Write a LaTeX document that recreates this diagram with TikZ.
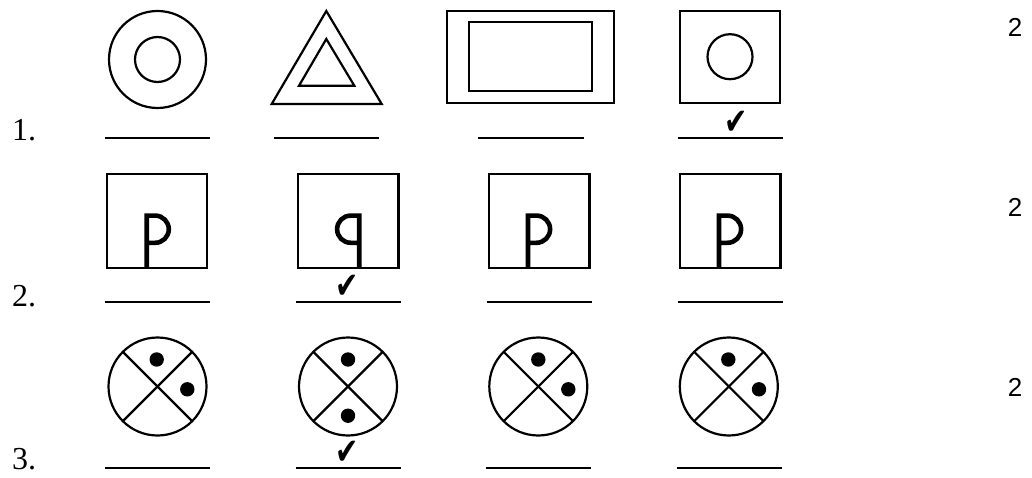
\documentclass[tikz,border=0pt]{standalone}
\usepackage{fontspec}
\setmainfont{Liberation Serif}
\newfontfamily\numfont{Liberation Sans}
\newfontfamily\symfont{DejaVu Sans}
\usepackage{tikz}
\tikzset{
    shapeline/.style={line width=2.2pt, black},
    blank/.style={line width=2pt, black},
    pstroke/.style={line width=4.6pt, black},
    numlabel/.style={anchor=base west, inner sep=0pt, font=\fontsize{32}{32}\selectfont},
    marklabel/.style={inner sep=0pt, font=\numfont\fontsize{26}{26}\selectfont},
    tick/.style={inner sep=0pt, xscale=0.75, font=\symfont\fontsize{37}{37}\selectfont}
}

\begin{document}
\begin{tikzpicture}[x=1pt,y=-1pt]
    \useasboundingbox (0,0) rectangle (1032,478);

    % row 1
    \draw[shapeline] (157.5,59.5) circle (48.5) (157.5,59.5) circle (22.5);
    \draw[shapeline] (271.7,104) -- (381.7,104) -- (326.3,11) -- cycle;
    \draw[shapeline] (299,85.7) -- (354.3,85.7) -- (326.3,39) -- cycle;
    \draw[shapeline] (446.7,10.7) rectangle (614.3,103.3);
    \draw[shapeline] (469.3,22.3) rectangle (592,90.7);
    \draw[shapeline] (680,10.7) rectangle (780,103.3);
    \draw[shapeline] (730,56.7) circle (22.5);

    % row 2
    \foreach \sx in {106.7,298,489,680}
        \draw[shapeline] (\sx,174) rectangle ++(100.5,94.3);
    \foreach \px/\sg in {146.7/1,359.2/-1,528/1,719/1}
        \draw[pstroke] (\px,268.3) -- (\px,215.6) -- ++(\sg*8.5,0)
            arc[start angle=-90, end angle=90, x radius=\sg*13.6, y radius=13.6]
            -- (\px,242.8);

    % row 3
    \foreach \cx/\ax/\ay/\bx/\by in {157.5/-0.8/-27/29.8/2.8,348/0/-27/0/29.2,
                                     538.3/0/-27/30/2.8,728.8/-0.5/-27/30.2/2.8} {
        \draw[shapeline] (\cx,386.5) circle (49);
        \draw[shapeline] (\cx,386.5) ++(-34.6,-34.6) -- ++(69.2,69.2);
        \draw[shapeline] (\cx,386.5) ++(34.6,-34.6) -- ++(-69.2,69.2);
        \fill (\cx,386.5) ++(\ax,\ay) circle (7.2);
        \fill (\cx,386.5) ++(\bx,\by) circle (7.2);
    }

    % answer lines
    \foreach \lx/\ly in {104.7/137.7,273.7/137.7,478.3/137.7,677.7/137.7,
                         104.7/302.3,295.7/302.3,486.7/302.3,677.7/302.3,
                         104.7/468.3,295.7/468.3,485.7/468.3,676.7/468.3}
        \draw[blank] (\lx,\ly) -- ++(105.5,0);

    \node[tick] (tick1) at (736,122.5) {✔};
    \node[tick] (tick2) at (347.5,286.5) {✔};
    \node[tick] (tick3) at (347.5,453) {✔};

    \node[numlabel] (q1) at (12,141) {1.};
    \node[numlabel] (q2) at (12,306) {2.};
    \node[numlabel] (q3) at (12,469) {3.};

    \node[marklabel] (s1) at (1015,27) {2};
    \node[marklabel] (s2) at (1015,207) {2};
    \node[marklabel] (s3) at (1015,387.5) {2};
\end{tikzpicture}
\end{document}
